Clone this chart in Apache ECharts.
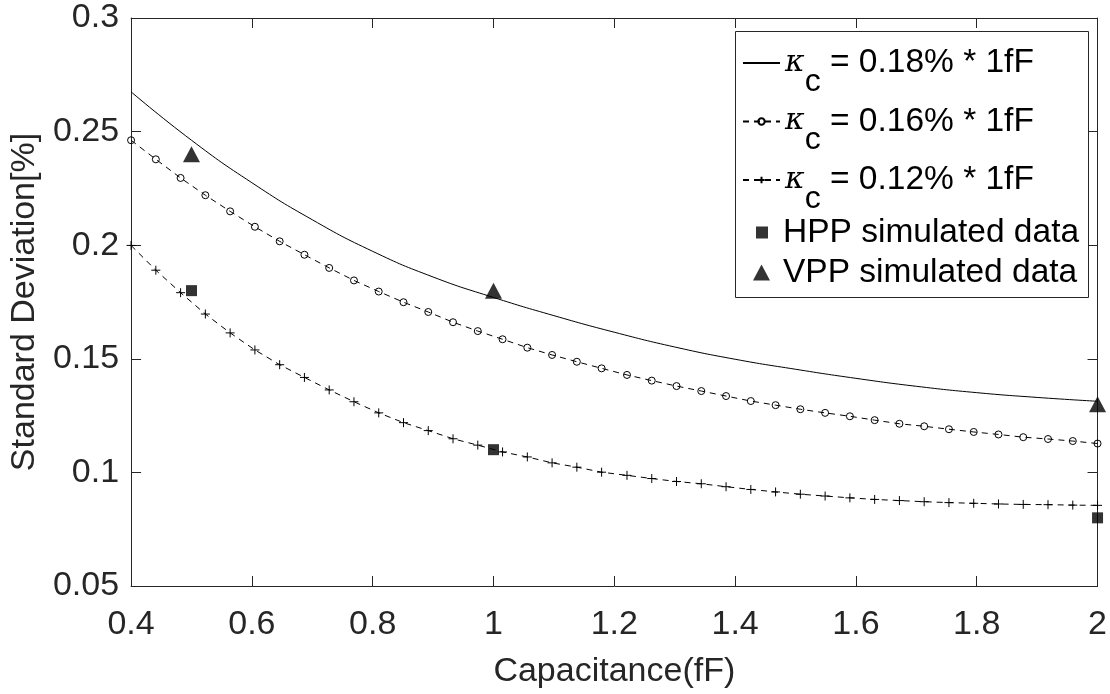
<!DOCTYPE html>
<html>
<head>
<meta charset="utf-8">
<script src="https://cdn.jsdelivr.net/npm/echarts@6/dist/echarts.min.js"></script>
<style>
  html, body { margin: 0; padding: 0; background: #fff; }
  #ct1 { width: 1110px; height: 694px; }
</style>
</head>
<body>
<div id="ct1"></div>
<script>
// data
var xTicks = [0.4, 0.6, 0.8, 1, 1.2, 1.4, 1.6, 1.8, 2];
var yTicks = [0.05, 0.1, 0.15, 0.2, 0.25, 0.3];

// solid curve (kappa_c = 0.18%)
var xSolid = [0.4, 0.5, 0.6, 0.7, 0.8, 0.9, 1.0, 1.1, 1.2, 1.3, 1.4, 1.5, 1.6, 1.7, 1.8, 1.9, 2.0];
var ySolid = [0.2675, 0.2462, 0.2275, 0.2112, 0.1973, 0.1860, 0.1770, 0.1690, 0.1617, 0.1552, 0.1498, 0.1454, 0.1414, 0.1379, 0.1351, 0.1330, 0.1313];

// marker positions of the two dashed curves
var xMarked = [0.4, 0.441, 0.482, 0.523, 0.564, 0.605, 0.646, 0.687, 0.728, 0.769,
               0.810, 0.851, 0.892, 0.933, 0.974, 1.015, 1.056, 1.097, 1.138, 1.179,
               1.221, 1.262, 1.303, 1.344, 1.385, 1.426, 1.467, 1.508, 1.549, 1.590,
               1.631, 1.672, 1.713, 1.754, 1.795, 1.836, 1.877, 1.918, 1.959, 2.0];
// kappa_c = 0.16% (circles)
var yCircle = [0.2462, 0.2378, 0.2296, 0.2220, 0.2149, 0.2081, 0.2017, 0.1958, 0.1900, 0.1845,
               0.1796, 0.1749, 0.1706, 0.1661, 0.1622, 0.1586, 0.1549, 0.1517, 0.1487, 0.1458,
               0.1429, 0.1404, 0.1380, 0.1358, 0.1336, 0.1314, 0.1296, 0.1278, 0.1262, 0.1247,
               0.1230, 0.1214, 0.1203, 0.1190, 0.1178, 0.1167, 0.1155, 0.1147, 0.1138, 0.1127];
// kappa_c = 0.12% (plus)
var yPlus = [0.1999, 0.1890, 0.1791, 0.1697, 0.1614, 0.1539, 0.1474, 0.1418, 0.1363, 0.1311,
             0.1262, 0.1219, 0.1184, 0.1148, 0.1120, 0.1090, 0.1068, 0.1042, 0.1023, 0.1001,
             0.0987, 0.0973, 0.0960, 0.0950, 0.0937, 0.0925, 0.0914, 0.0904, 0.0896, 0.0888,
             0.0881, 0.0876, 0.0871, 0.0867, 0.0864, 0.0861, 0.0859, 0.0858, 0.0856, 0.0855];

var xSim = [0.5, 1, 2];
var yHPP = [0.18, 0.11, 0.08];
var yVPP = [0.24, 0.18, 0.13];

var kNames = ['0.18% * 1fF', '0.16% * 1fF', '0.12% * 1fF'];
var simNames = ['HPP simulated data', 'VPP simulated data'];

function pairs(xs, ys) {
    return xs.map(function (x, i) { return [x, ys[i]]; });
}

window.onload = function () {
    var myChart = echarts.init(document.getElementById('ct1'));

    var axisColor = '#262626';
    var fontFam = 'Liberation Sans, Arial, sans-serif';
    var fmt = function (v) { return String(+v.toFixed(2)); };

    var xBase = {
        type: 'value', min: xTicks[0], max: xTicks[xTicks.length - 1], interval: 0.2,
        axisLine: { lineStyle: { color: axisColor, width: 1 } },
        axisTick: { inside: true, length: 10, lineStyle: { color: axisColor } },
        splitLine: { show: false }
    };
    var yBase = {
        type: 'value', min: yTicks[0], max: yTicks[yTicks.length - 1], interval: 0.05,
        axisLine: { show: true, lineStyle: { color: axisColor, width: 1 } },
        axisTick: { show: true, inside: true, length: 10, lineStyle: { color: axisColor } },
        splitLine: { show: false }
    };

    var option = {
        animation: false,
        backgroundColor: '#fff',
        grid: { left: 131, right: 11, top: 18, bottom: 101 },
        xAxis: [
            Object.assign({}, xBase, {
                position: 'bottom',
                name: 'Capacitance(fF)', nameLocation: 'middle', nameGap: 69,
                nameTextStyle: { fontSize: 34, color: axisColor, fontFamily: fontFam },
                axisLabel: { fontSize: 34, color: axisColor, fontFamily: fontFam, margin: 22, formatter: fmt }
            }),
            Object.assign({}, xBase, { position: 'top', axisLabel: { show: false } })
        ],
        yAxis: [
            Object.assign({}, yBase, {
                position: 'left',
                name: 'Standard Deviation[%]', nameLocation: 'middle', nameGap: 80,
                nameTextStyle: { fontSize: 34, color: axisColor, fontFamily: fontFam },
                axisLabel: { fontSize: 34, color: axisColor, fontFamily: fontFam, margin: 12, formatter: fmt }
            }),
            Object.assign({}, yBase, { position: 'right', axisLabel: { show: false } })
        ],
        graphic: [{
            type: 'rect', z: 3,
            shape: { x: 735.5, y: 31.5, width: 353, height: 266 },
            style: { fill: '#fff', stroke: axisColor, lineWidth: 1 }
        }],
        legend: [
            {
                data: kNames,
                orient: 'vertical', left: 735, top: 28,
                padding: [0, 0, 0, 7], itemWidth: 37, itemHeight: 8, itemGap: -11.5, z: 5,
                formatter: function (n) { return '{k|κ}{s|c}{t| = ' + n + '}'; },
                textStyle: {
                    color: '#000',
                    rich: {
                        k: { fontFamily: 'DejaVu Serif', fontStyle: 'italic', fontSize: 30, color: '#000', lineHeight: 35 },
                        s: { fontFamily: fontFam, fontSize: 32, color: '#000', lineHeight: 35, padding: [38, 0, 0, 0] },
                        t: { fontFamily: fontFam, fontSize: 33.5, color: '#000', lineHeight: 35 }
                    }
                }
            },
            {
                data: [simNames[0]], left: 756, top: 215.5, padding: 0,
                itemWidth: 12, itemHeight: 12, z: 5,
                formatter: function (n) { return '{t|' + n + '}'; },
                textStyle: { rich: { t: { fontFamily: fontFam, fontSize: 33.5, color: '#000', lineHeight: 35, padding: [0, 0, 0, 10] } } }
            },
            {
                data: [simNames[1]], left: 753, top: 255.5, padding: 0,
                itemWidth: 17, itemHeight: 16, z: 5,
                formatter: function (n) { return '{t|' + n + '}'; },
                textStyle: { rich: { t: { fontFamily: fontFam, fontSize: 33.5, color: '#000', lineHeight: 35, padding: [0, 0, 0, 8] } } }
            }
        ],
        series: [
            {
                name: kNames[0], type: 'line', smooth: true,
                data: pairs(xSolid, ySolid),
                // transparent marker so the legend shows only the line
                symbol: 'circle', showSymbol: false,
                itemStyle: { color: 'rgba(0,0,0,0)', borderWidth: 0 },
                lineStyle: { color: '#000', width: 1 }
            },
            {
                name: kNames[1], type: 'line',
                data: pairs(xMarked, yCircle),
                symbol: 'circle', symbolSize: 7,
                itemStyle: { color: 'rgba(0,0,0,0)', borderColor: '#000', borderWidth: 1 },
                lineStyle: { color: '#000', width: 1, type: [6, 5] }
            },
            {
                name: kNames[2], type: 'line',
                data: pairs(xMarked, yPlus),
                symbol: 'path://M0,5H10M5,0V10', symbolSize: 9,
                itemStyle: { color: 'rgba(0,0,0,0)', borderColor: '#000', borderWidth: 1 },
                lineStyle: { color: '#000', width: 1, type: [6, 5] }
            },
            {
                name: simNames[0], type: 'scatter',
                data: pairs(xSim, yHPP),
                symbol: 'rect', symbolSize: 11,
                itemStyle: { color: '#000' }, z: 4
            },
            {
                name: simNames[1], type: 'scatter',
                data: pairs(xSim, yVPP),
                symbol: 'triangle', symbolSize: [17, 16],
                itemStyle: { color: '#000' }, z: 4
            }
        ]
    };

    myChart.setOption(option);
};
</script>
</body>
</html>
